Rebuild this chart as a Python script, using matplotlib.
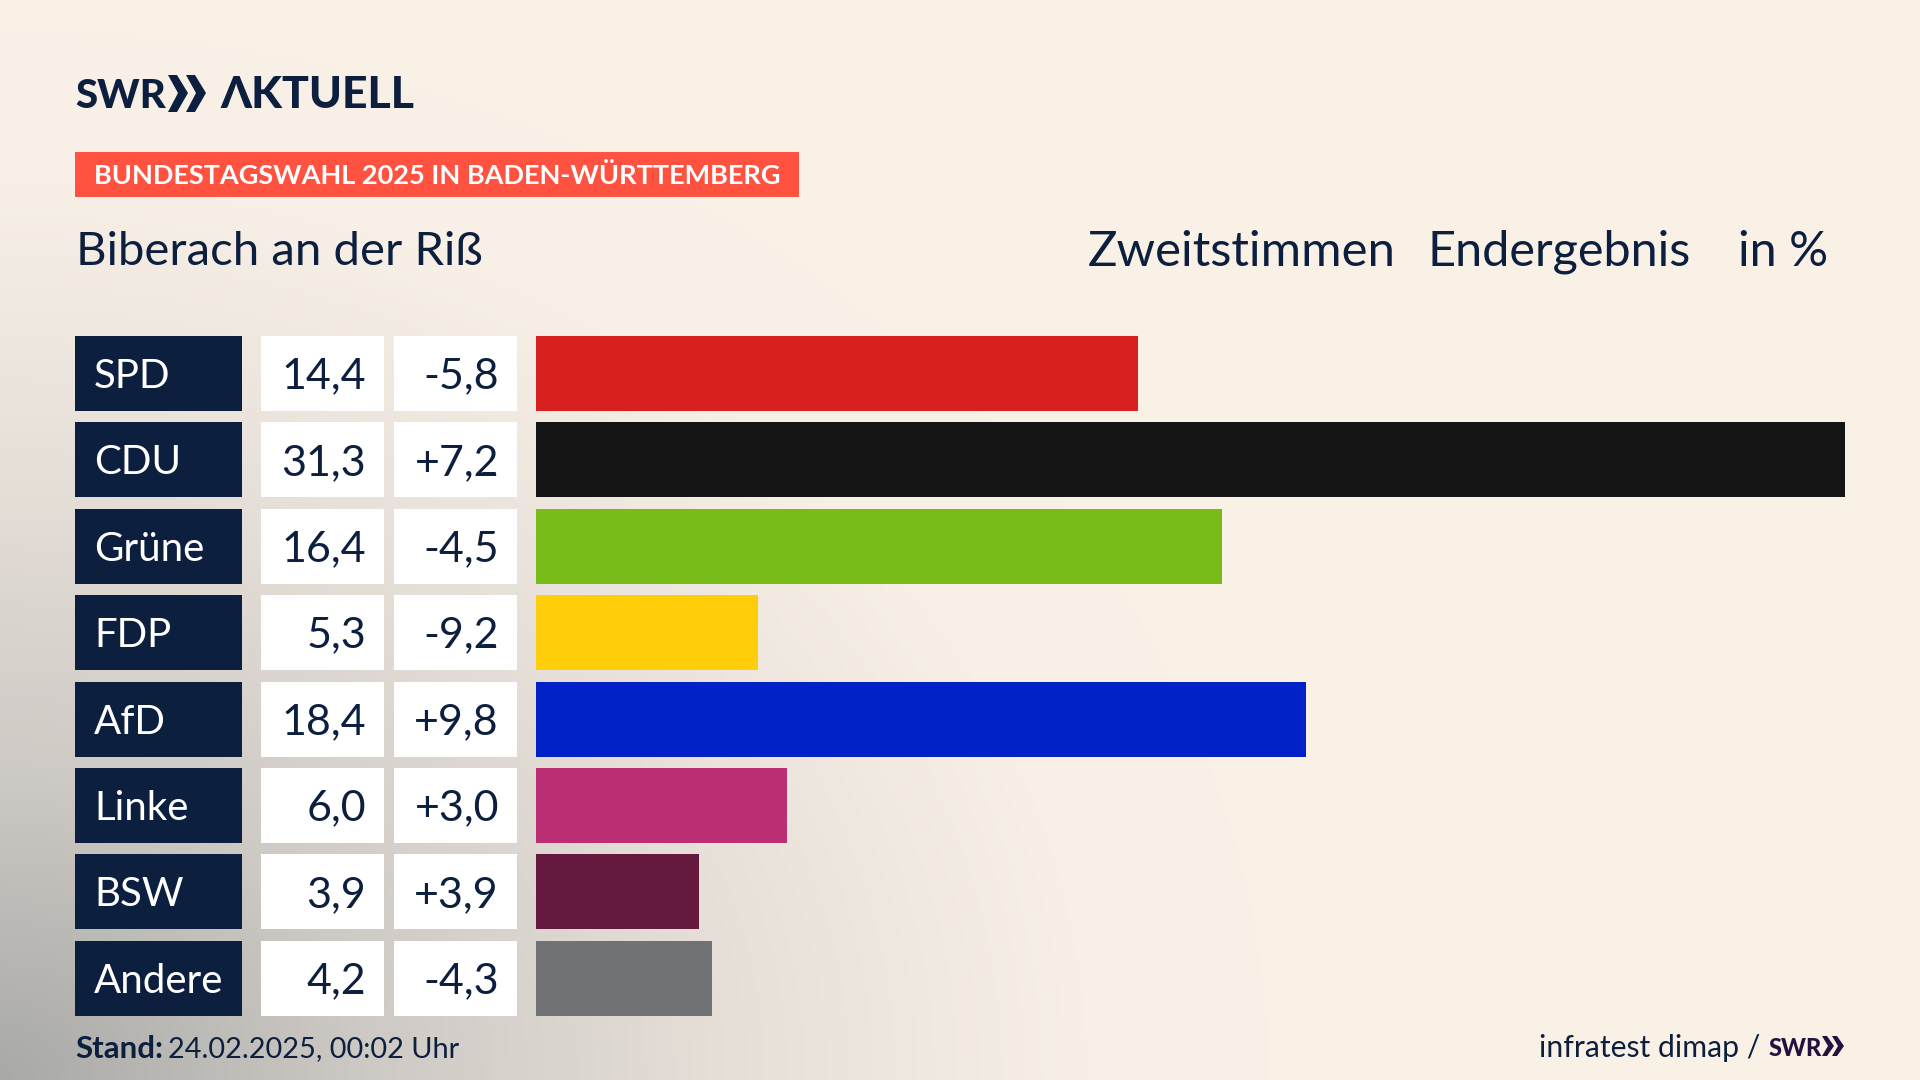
import numpy as np
import matplotlib
matplotlib.use('Agg')
import matplotlib.pyplot as plt
from matplotlib.patches import Polygon, Rectangle
from matplotlib.colors import LinearSegmentedColormap

parties = ['SPD', 'CDU', 'Grüne', 'FDP', 'AfD', 'Linke', 'BSW', 'Andere']
results = [14.4, 31.3, 16.4, 5.3, 18.4, 6.0, 3.9, 4.2]
changes = [-5.8, 7.2, -4.5, -9.2, 9.8, 3.0, 3.9, -4.3]
colors = ['#d7201f', '#141414', '#79bc19', '#ffcd09', '#0021c6', '#bb3075', '#65193f', '#717274']

navy = '#0c1f3f'
plt.rcParams['font.family'] = ['Lato', 'DejaVu Sans']

fig = plt.figure(figsize=(19.2, 10.8), dpi=100)
ax = fig.add_axes([0, 0, 1, 1])
ax.set_xlim(0, 1920)
ax.set_ylim(1080, 0)
ax.axis('off')

# background, grey comes in from the lower left corner
yy, xx = np.mgrid[0:1080:270j, 0:1920:480j]
d = np.sqrt((xx / 1450) ** 2 + ((1080 - yy) / 1200) ** 2)
bg_cmap = LinearSegmentedColormap.from_list('bg', ['#a9a9a7', '#cdc9c4', '#e6dfd8', '#f8f0e6', '#faf1e6'])
ax.imshow(np.clip(d, 0, 1), extent=(0, 1920, 1080, 0), cmap=bg_cmap, vmin=0, vmax=1, aspect='auto', zorder=0)

# logo
ax.text(75, 108, 'SWR', fontsize=29, fontweight='black', color=navy, va='baseline')
for x0 in (168, 186):
    ax.add_patch(Polygon([(x0, 75), (x0 + 9, 75), (x0 + 20, 93), (x0 + 9, 112), (x0, 112), (x0 + 10, 93)], color=navy, lw=0))
ax.text(220, 108, 'ΛKTUELL', fontsize=32, fontweight='black', color=navy, va='baseline')

# header
ax.add_patch(Rectangle((75, 152), 724, 45, color='#ff5240', lw=0))
ax.text(94, 176, 'BUNDESTAGSWAHL 2025 IN BADEN-WÜRTTEMBERG', fontsize=19.5, fontweight='bold', color='white', va='center')
ax.text(76, 252, 'Biberach an der Riß', fontsize=34, color=navy, va='center')
ax.text(1088, 252, 'Zweitstimmen', fontsize=35.4, color=navy, va='center')
ax.text(1428, 252, 'Endergebnis', fontsize=35, color=navy, va='center')
ax.text(1738, 252, 'in %', fontsize=35, color=navy, va='center')

# table rows
row_top = 336
row_step = 86.4
row_h = 75
for i, name in enumerate(parties):
    y = row_top + i * row_step
    ax.add_patch(Rectangle((75, y), 167, row_h, color=navy, lw=0))
    ax.add_patch(Rectangle((261, y), 123, row_h, color='white', lw=0))
    ax.add_patch(Rectangle((394, y), 123, row_h, color='white', lw=0))
    ax.text(94, y + row_h / 2 + 3, name, fontsize=29, color='white', va='center')
    ax.text(366, y + row_h / 2 + 3, f'{results[i]:.1f}'.replace('.', ','), fontsize=31, color=navy, va='center', ha='right')
    ax.text(499, y + row_h / 2 + 3, f'{changes[i]:+.1f}'.replace('.', ','), fontsize=31, color=navy, va='center', ha='right')

# footer
ax.text(75, 1049, 'Stand:', fontsize=22.5, fontweight='bold', color=navy, va='center')
ax.text(168, 1049, '24.02.2025, 00:02 Uhr', fontsize=20.8, color=navy, va='center')
ax.text(1760, 1048, 'infratest dimap /', fontsize=21.7, color=navy, va='center', ha='right')
ax.text(1769, 1056, 'SWR', fontsize=17, fontweight='black', color='#25113f', va='baseline')
for x0 in (1822, 1832):
    ax.add_patch(Polygon([(x0, 1036), (x0 + 5, 1036), (x0 + 12, 1046), (x0 + 5, 1056), (x0, 1056), (x0 + 6, 1046)], color='#25113f', lw=0))

# bars on their own axes
bar_ax = fig.add_axes([536 / 1920, 0, (1845 - 536) / 1920, 1])
bar_ax.set_xlim(0, 31.3)
bar_ax.set_ylim(1080, 0)
bar_ax.axis('off')
bar_ax.patch.set_alpha(0)
ys = [row_top + row_h / 2 + i * row_step for i in range(len(parties))]
bar_ax.barh(ys, results, height=row_h, color=colors, linewidth=0)

fig.savefig('out.png', dpi=100)
